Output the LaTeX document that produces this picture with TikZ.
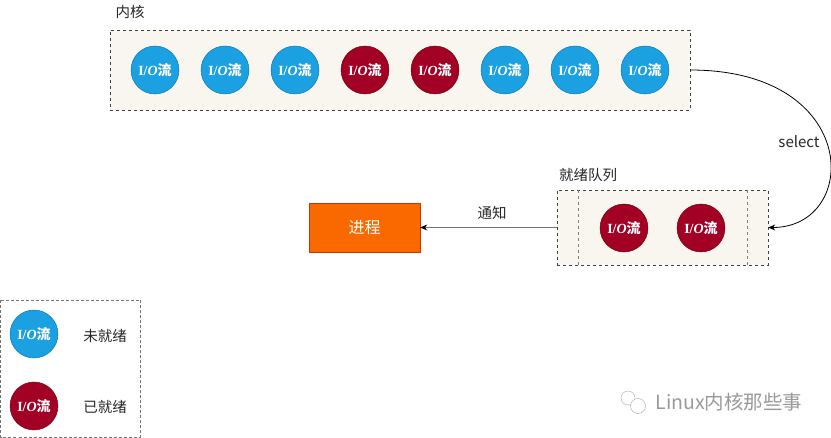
\documentclass[tikz,border=0pt]{standalone}
\usepackage{fontspec}
\setmainfont{Noto Sans CJK SC}
\newfontfamily\ioserif{Liberation Serif}
\usepackage{tikz}
\usetikzlibrary{positioning,arrows.meta,shapes}

\definecolor{idleblue}{HTML}{1BA1E2}
\definecolor{idleedge}{HTML}{006EAF}
\definecolor{readyred}{HTML}{A20025}
\definecolor{readyedge}{HTML}{6F0000}
\definecolor{procfill}{HTML}{FA6800}
\definecolor{procedge}{HTML}{C73500}
\definecolor{panel}{HTML}{F8F6EE}

\tikzset{
    iostream/.style={circle, minimum size=48pt, inner sep=0pt, text=white, font=\fontsize{14}{14}\selectfont\bfseries},
    idle/.style={iostream, fill=idleblue, draw=idleedge},
    ready/.style={iostream, fill=readyred, draw=readyedge},
    dashbox/.style={draw=black!75, dashed, fill=panel},
    caption/.style={font=\fontsize{14.5}{14.5}\selectfont, text=black!85}
}
\newcommand{\iolabel}{{\ioserif I/\textit{O}}流}

\begin{document}
\begin{tikzpicture}[x=1pt, y=-1pt]
    \useasboundingbox (0,0) rectangle (831,438);

    % kernel
    \node [dashbox, minimum width=580pt, minimum height=80pt] (kernel) at (400,70) {};
    \node [caption] (kernellabel) at (130,12) {内核};

    \node [idle]  (io1) at (155,70) {\iolabel};
    \node [idle]  (io2) at (225,70) {\iolabel};
    \node [idle]  (io3) at (295,70) {\iolabel};
    \node [ready] (io4) at (365,70) {\iolabel};
    \node [ready] (io5) at (435,70) {\iolabel};
    \node [idle]  (io6) at (505,70) {\iolabel};
    \node [idle]  (io7) at (575,70) {\iolabel};
    \node [idle]  (io8) at (645,70) {\iolabel};

    % ready queue
    \node [dashbox, minimum width=211pt, minimum height=75pt] (queue) at (662.5,227.5) {};
    \node [caption] (queuelabel) at (588,175) {就绪队列};
    \draw [black!50, dashed] (578,190) -- (578,265);
    \draw [black!50, dashed] (747,190) -- (747,265);

    \node [ready] (rq1) at (624,228) {\iolabel};
    \node [ready] (rq2) at (701,228) {\iolabel};

    % process
    \node [fill=procfill, draw=procedge, minimum width=111pt, minimum height=49pt, text=white, font=\fontsize{16}{16}\selectfont] (proc) at (364.5,227.5) {进程};

    \draw [black!55, thick, -{Stealth[length=7pt, width=6pt, black]}] (queue.west) -- (proc.east);
    \node [caption] (notify) at (492,213) {通知};

    \draw [black, line width=0.8pt, -{Stealth[length=7pt, width=6pt]}] (kernel.east) .. controls +(172,0) and +(92,0) .. (queue.east);
    \node [caption, font=\fontsize{15}{15}\selectfont] (selectlabel) at (799,142) {select};

    % legend
    \draw [black!55, densely dashed] (0.5,300) rectangle (140,437);
    \node [idle]  (legendidle)  at (34,334) {\iolabel};
    \node [ready] (legendready) at (34,406) {\iolabel};
    \node [caption] (idletext)  at (105,336) {未就绪};
    \node [caption] (readytext) at (105,407) {已就绪};

    % watermark
    \draw [black!35] (628,398) circle (7pt);
    \draw [black!35, fill=white] (638,406) circle (7.5pt);
    \node [text=black!40, font=\fontsize{19.5}{19.5}\selectfont, anchor=west] (mark) at (652,402) {Linux内核那些事};
\end{tikzpicture}
\end{document}
